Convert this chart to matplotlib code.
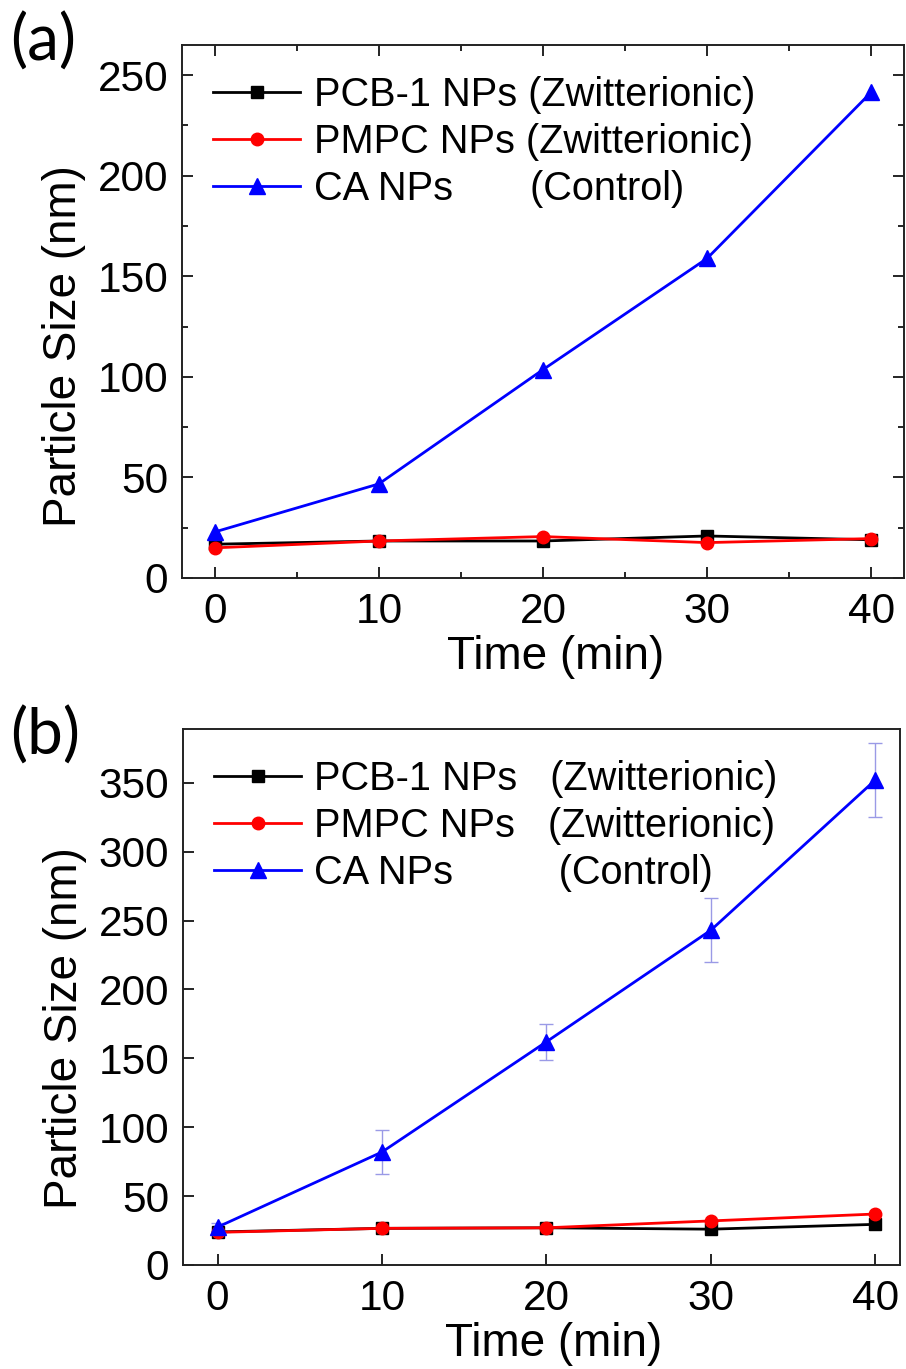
import matplotlib
matplotlib.use("Agg")
import matplotlib.pyplot as plt
from matplotlib.ticker import MultipleLocator

plt.rcParams["font.family"] = ["Liberation Sans", "DejaVu Sans"]

time_min = [0, 10, 20, 30, 40]

# (a) particle size over time
a_pcb = [16.8, 18.4, 18.4, 20.9, 19.0]
a_pmpc = [15.0, 18.4, 20.6, 17.6, 19.6]
a_ca = [22.9, 46.8, 103.6, 158.9, 241.5]

# (b) particle size over time, with error bars on the control
b_pcb = [24.0, 26.6, 27.0, 26.0, 29.5]
b_pmpc = [23.7, 26.6, 27.0, 32.0, 37.0]
b_ca = [27.5, 82.0, 162.0, 243.0, 352.0]
b_ca_err = [3.0, 16.0, 13.0, 23.0, 27.0]

labels_a = ["PCB-1 NPs (Zwitterionic)",
            "PMPC NPs (Zwitterionic)",
            "CA NPs       (Control)"]
labels_b = ["PCB-1 NPs   (Zwitterionic)",
            "PMPC NPs   (Zwitterionic)",
            "CA NPs         \u2006(Control)"]

TICK_FS = 30.5
LABEL_FS = 33
LEG_FS = 28.6
W, H = 906, 1369
fig = plt.figure(figsize=(W / 100, H / 100), dpi=100)

ax_a = fig.add_axes([182 / W, 1 - 578 / H, (904 - 182) / W, (578 - 45) / H])
ax_b = fig.add_axes([183 / W, 1 - 1265 / H, (900 - 183) / W, (1265 - 729) / H])

line_kw = dict(lw=2.0)
ax_a.plot(time_min, a_pcb, color="black", marker="s", ms=8.5, label=labels_a[0], **line_kw)
ax_a.plot(time_min, a_pmpc, color="red", marker="o", ms=9, label=labels_a[1], **line_kw)
ax_a.plot(time_min, a_ca, color="blue", marker="^", ms=11, label=labels_a[2], **line_kw)

ax_b.errorbar(time_min, b_ca, yerr=b_ca_err, fmt="none", ecolor="#9a9ae6",
              elinewidth=1.0, capsize=5, capthick=1.0)
ax_b.plot(time_min, b_pcb, color="black", marker="s", ms=8.5, label=labels_b[0], **line_kw)
ax_b.plot(time_min, b_pmpc, color="red", marker="o", ms=9, label=labels_b[1], **line_kw)
ax_b.plot(time_min, b_ca, color="blue", marker="^", ms=11, label=labels_b[2], **line_kw)

ax_a.set_xlim(-2, 42)
ax_a.set_ylim(0, 265)
ax_b.set_xlim(-2.1, 41.5)
ax_b.set_ylim(0, 389)

ax_a.xaxis.set_major_locator(MultipleLocator(10))
ax_a.xaxis.set_minor_locator(MultipleLocator(5))
ax_a.yaxis.set_major_locator(MultipleLocator(50))
ax_a.yaxis.set_minor_locator(MultipleLocator(25))
ax_b.xaxis.set_major_locator(MultipleLocator(10))
ax_b.yaxis.set_major_locator(MultipleLocator(50))
ax_b.minorticks_off()

ax_a.tick_params(which="both", direction="in", top=True, right=True, width=1.2)
ax_a.tick_params(which="major", length=8, labelsize=TICK_FS, pad=10)
ax_a.tick_params(which="minor", length=4.5)
ax_b.tick_params(which="major", direction="in", length=8, width=1.2,
                 labelsize=TICK_FS, pad=10)

for ax, ylab_y in ((ax_a, 0.436), (ax_b, 0.442)):
    for s in ax.spines.values():
        s.set_linewidth(1.4)
        s.set_color("#222222")
    ax.set_xlabel("Time (min)", fontsize=LABEL_FS, labelpad=2)
    ax.set_ylabel("Particle Size (nm)", fontsize=LABEL_FS, labelpad=8)
    ax.xaxis.label.set_x(0.517)
    ax.yaxis.label.set_y(ylab_y)
    ax.legend(loc="upper left", bbox_to_anchor=(0.043, 0.942), frameon=False,
              fontsize=LEG_FS, handlelength=2.2, handletextpad=0.33,
              labelspacing=0.23, borderpad=0, borderaxespad=0)

fig.text(10 / W, 1 - 12 / H, "(a)", fontsize=46, va="top", ha="left",
         family=["Lato", "DejaVu Sans"])
fig.text(10 / W, 1 - 706 / H, "(b)", fontsize=46, va="top", ha="left",
         family=["Lato", "DejaVu Sans"])

fig.savefig("out.png", dpi=100)
